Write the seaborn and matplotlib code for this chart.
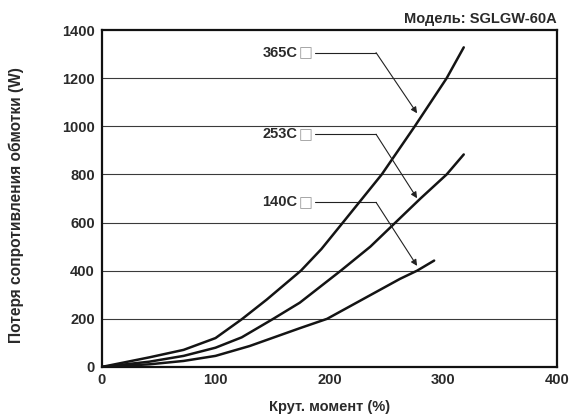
import pandas as pd
import matplotlib
matplotlib.use("Agg")
import matplotlib.pyplot as plt
import seaborn as sns

# Values (torque %, winding loss W)
torque_365 = [0, 42, 72, 100, 123, 145, 175, 193, 211, 246, 275, 303, 318]
loss_365 = [0, 40, 71, 120, 198, 280, 400, 490, 595, 800, 1000, 1200, 1328]

torque_253 = [0, 42, 72, 100, 123, 150, 174, 210, 236, 258, 280, 303, 318]
loss_253 = [0, 22, 46, 80, 123, 198, 267, 400, 500, 600, 700, 800, 883]

torque_140 = [0, 42, 72, 100, 130, 174, 198, 262, 277, 292]
loss_140 = [0, 11, 25, 46, 87, 161, 200, 366, 400, 442]

series_names = ["365C", "253C", "140C"]
label_y = [1306, 967, 684]
arrow_tip = [(277, 1054), (277, 701), (277, 420)]

x_ticks = [0, 100, 200, 300, 400]
y_ticks = [0, 200, 400, 600, 800, 1000, 1200, 1400]

sns.set_style("white")
plt.rcParams["font.family"] = ["Liberation Sans", "DejaVu Sans"]
plt.rcParams["font.weight"] = "bold"
plt.rcParams["axes.labelweight"] = "bold"
plt.rcParams["axes.titleweight"] = "bold"

df = pd.concat([
    pd.DataFrame({"torque": torque_365, "loss": loss_365, "model": "365C"}),
    pd.DataFrame({"torque": torque_253, "loss": loss_253, "model": "253C"}),
    pd.DataFrame({"torque": torque_140, "loss": loss_140, "model": "140C"}),
])

fig = plt.figure(figsize=(5.84, 4.17), dpi=100)
ax = fig.add_axes([0.174, 0.12, 0.78, 0.808])

for y in y_ticks[1:-1]:
    ax.axhline(y, color="#3a3a3a", lw=0.8, zorder=1)

sns.lineplot(data=df, x="torque", y="loss", hue="model", sort=False,
             palette=["#141414"] * 3, lw=1.8, legend=False, ax=ax, zorder=3)

for name, ly, tip in zip(series_names, label_y, arrow_tip):
    ax.text(172, ly, name, ha="right", va="center", fontsize=10.5, color="#2a2a2a")
    ax.text(173, ly, "\u25a1", ha="left", va="center", fontsize=10.5,
            color="#999999", family="DejaVu Sans", weight="normal")
    ax.plot([187, 241], [ly, ly], color="#222222", lw=0.8)
    ax.annotate("", xy=tip, xytext=(241, ly),
                arrowprops=dict(arrowstyle="-|>", color="#222222", lw=0.8,
                                mutation_scale=9, shrinkA=0, shrinkB=0))

ax.set_xlim(0, 400)
ax.set_ylim(0, 1400)
ax.set_xticks(x_ticks)
ax.set_yticks(y_ticks)
ax.tick_params(direction="in", length=5, width=1, labelsize=10.5, colors="#2a2a2a",
               pad=4)
ax.tick_params(axis="y", length=0, pad=5)
for s in ax.spines.values():
    s.set_color("#111111")
    s.set_linewidth(1.6)

ax.set_xlabel("Крут. момент (%)", fontsize=10.5, labelpad=10, color="#2a2a2a")
ax.set_ylabel("Потеря сопротивления обмотки (W)", fontsize=11.2, color="#2a2a2a")
ax.yaxis.set_label_coords(-0.17, 0.48)
ax.set_title("Модель: SGLGW-60A", loc="right", fontsize=10.5, pad=5, color="#2a2a2a")

fig.savefig("out.png", dpi=100)
